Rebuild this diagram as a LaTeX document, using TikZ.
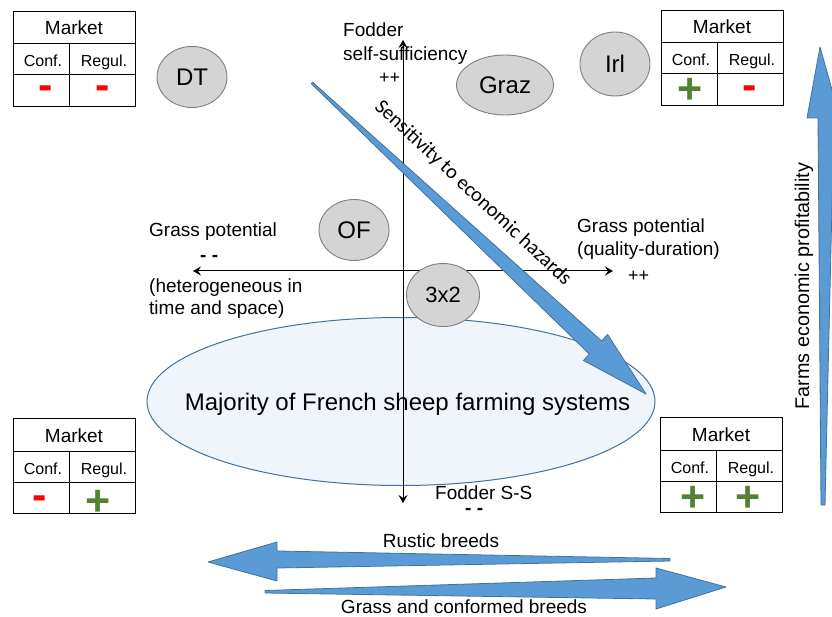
\documentclass[tikz,border=0pt]{standalone}
\usepackage{fontspec}
\setmainfont{Liberation Sans}
\newfontfamily\carlito{Carlito}
\usetikzlibrary{shapes.geometric,arrows.meta,calc}
\definecolor{ovalfill}{HTML}{D4D4D4}
\definecolor{ovalline}{HTML}{7F7F7F}
\definecolor{bigfill}{HTML}{EFF5FB}
\definecolor{blueline}{HTML}{41719C}
\definecolor{bluefill}{HTML}{5B9BD5}
\definecolor{minusred}{HTML}{FF0000}
\definecolor{plusgreen}{HTML}{548235}
\newcommand\mtable[3]{%
  \node[draw=black, line width=1pt, minimum width=122, minimum height=95, inner sep=0, anchor=north west] (#1) at (#2,#3) {};
  \draw[line width=1pt] ($(#1.north west)+(0,33)$) -- ($(#1.north east)+(0,33)$);
  \draw[line width=1pt] ($(#1.north west)+(0,64)$) -- ($(#1.north east)+(0,64)$);
  \draw[line width=1pt] ($(#1.north west)+(56,33)$) -- ($(#1.south west)+(56,0)$);
  \node[mkt] (#1-mk) at ($(#1.north west)+(61,24)$) {Market};
  \node[cellhd] (#1-cf) at ($(#1.north west)+(30,56)$) {Conf.};
  \node[cellhd] (#1-rg) at ($(#1.north west)+(91,56)$) {Regul.};
}
\begin{document}
\begin{tikzpicture}[x=1pt,y=-1pt,
  lbl/.style={font=\fontsize{19}{23}\selectfont, inner sep=0, anchor=base west},
  oval/.style={ellipse, draw=ovalline, fill=ovalfill, line width=0.9pt, inner sep=0, font=\fontsize{24}{28}\selectfont},
  mkt/.style={font=\fontsize{19}{23}\selectfont, inner sep=0, anchor=base},
  cellhd/.style={font=\fontsize{16}{19}\selectfont, inner sep=0, anchor=base},
  sgn/.style={font=\fontsize{43}{50}\selectfont\bfseries, inner sep=0, anchor=base},
  minus/.style={sgn, text=minusred},
  plus/.style={sgn, text=plusgreen},
  axis/.style={line width=1pt, {Stealth[length=8pt,width=9pt,inset=3pt]}-{Stealth[length=8pt,width=9pt,inset=3pt]}},
  bigarrow/.style={fill=bluefill, draw=blueline, line width=0.8pt, line join=round},
]
\useasboundingbox (0,0) rectangle (832,617);

% big ellipse
\node[ellipse, draw=blueline, fill=bigfill, line width=1pt, minimum width=508, minimum height=168, inner sep=0] (maj) at (401,401.5) {};
\node[font=\fontsize{24}{28}\selectfont, inner sep=0, anchor=base] (majt) at (407.5,410) {Majority of French sheep farming systems};

% axes
\coordinate (vtop) at (403,40);
\coordinate (vbot) at (403,503);
\coordinate (hleft) at (193,271);
\coordinate (hright) at (613,271);
\draw[axis] (vbot) -- (vtop);
\draw[axis] (hleft) -- (hright);

% ovals
\node[oval, minimum width=70, minimum height=61] (DT) at (192,77) {DT};
\node[oval, minimum width=70, minimum height=64] (Irl) at (615,64) {Irl};
\node[oval, minimum width=97, minimum height=60] (Graz) at (505,85) {Graz};
\node[oval, minimum width=70, minimum height=61] (OF) at (354,230) {OF};
\node[oval, minimum width=73, minimum height=63, font=\fontsize{22}{26}\selectfont] (tx) at (443,295) {3x2};

% diagonal arrow
\path[bigarrow] (312.7,82.3) -- (601.6,340.9) -- (607.6,334.5) -- (646,394) -- (583.5,360.5) -- (589.4,354.1) -- (311.3,83.7) -- cycle;

% horizontal arrows
\path[bigarrow] (670,558.5) -- (277,551) -- (277,542) -- (208,562) -- (277,581) -- (277,568) -- (670,561) -- cycle;
\path[bigarrow] (265,590.5) -- (656,578) -- (656,568) -- (726,587) -- (656,609) -- (656,599) -- (265,593) -- cycle;

% vertical arrow
\begin{scope}
\clip (0,0) rectangle (832,617);
\path[bigarrow] (821,505) -- (818,118) -- (807,118) -- (820,47) -- (840,118) -- (834,118) -- (825,505) -- cycle;
\end{scope}

% tables
\mtable{tl}{13}{11}
\mtable{tr}{661}{10}
\mtable{bl}{13}{418}
\mtable{br}{660}{417}
\node[minus] (tl-s1) at (46,99.5) {-};
\node[minus] (tl-s2) at (102.7,99.5) {-};
\node[plus] (tr-s1) at (690,103.5) {+};
\node[minus] (tr-s2) at (750,100) {-};
\node[minus] (bl-s1) at (40,509) {-};
\node[plus] (bl-s2) at (98,515.5) {+};
\node[plus] (br-s1) at (693,511.5) {+};
\node[plus] (br-s2) at (748,511.5) {+};

% labels
\node[lbl] (fod1) at (343,37) {Fodder};
\node[lbl] (fod2) at (343,61) {self-sufficiency};
\node[lbl, font=\fontsize{18}{22}\selectfont] (fodpp) at (379,83.5) {++};
\node[lbl] (gpr1) at (577,233) {Grass potential};
\node[lbl] (gpr2) at (577,256) {(quality-duration)};
\node[lbl, font=\fontsize{18}{22}\selectfont] (gprpp) at (628,281.5) {++};
\node[lbl] (gpl1) at (149,237) {Grass potential};
\node[lbl, font=\fontsize{19}{23}\selectfont\bfseries] (gplmm) at (200,262) {- -};
\node[lbl] (gpl2) at (149,293) {(heterogeneous in};
\node[lbl] (gpl3) at (149,315) {time and space)};
\node[lbl] (fss) at (435,499) {Fodder S-S};
\node[lbl, font=\fontsize{19}{23}\selectfont\bfseries] (fssmm) at (465,514) {- -};
\node[mkt] (rustic) at (441,547) {Rustic breeds};
\node[mkt] (grassb) at (464,613) {Grass and conformed breeds};
\node[font=\fontsize{19.8}{23}\selectfont, inner sep=0, rotate=90] (farms) at (804,286) {Farms economic profitability};
\node[font=\carlito\fontsize{20.5}{24}\selectfont, inner sep=0, rotate=-43] (sens) at (473,193) {Sensitivity to economic hazards};
\end{tikzpicture}
\end{document}
